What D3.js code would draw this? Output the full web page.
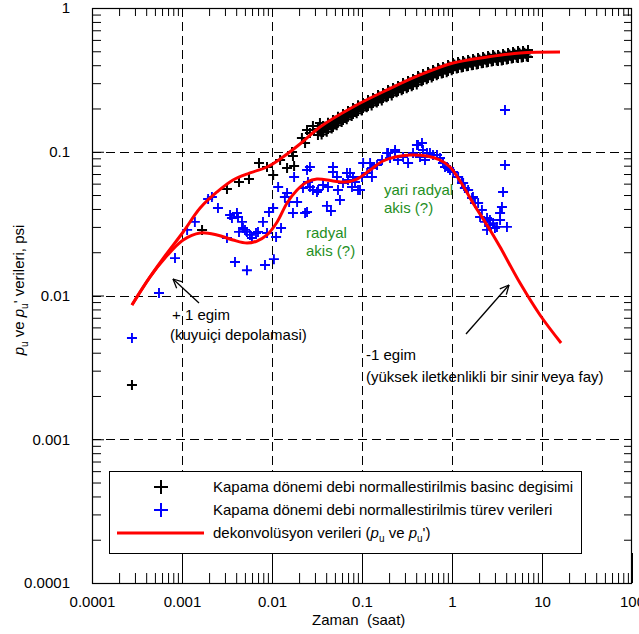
<!DOCTYPE html>
<html>
<head>
<meta charset="utf-8">
<script src="https://cdn.jsdelivr.net/npm/d3@7"></script>
<style>
  body { margin: 0; background: #fff; }
  svg text { font-family: 'Liberation Sans', Arial, sans-serif; font-size: 15px; }
</style>
</head>
<body>
<svg id="chart" width="639" height="634"></svg>
<script>
// tick values and labels
const xMajor = [1e-4, 1e-3, 1e-2, 1e-1, 1, 10, 100];
const xTickLabels = ['0.0001', '0.001', '0.01', '0.1', '1', '10', '100'];
const yMajor = [1e-4, 1e-3, 1e-2, 1e-1, 1];
const yTickLabels = ['0.0001', '0.001', '0.01', '0.1', '1'];

// black + : rate-normalised pressure change (time h, psi)
const pressurePts = [
  [2.78e-4, 0.00238], [1.67e-3, 0.0286], [3.16e-3, 0.0551], [4.30e-3, 0.0616], [5.55e-3, 0.0646],
  [7.17e-3, 0.0835], [8.80e-3, 0.0783], [0.0103, 0.0689], [0.0123, 0.0876], [0.0147, 0.0771],
  [0.0167, 0.0996], [0.0171, 0.0934], [0.0176, 0.0796], [0.0215, 0.1247], [0.0233, 0.115],
  [0.0245, 0.1417], [0.0264, 0.135], [0.0285, 0.1511], [0.0341, 0.1585], [0.0476, 0.1487], [0.0527, 0.1585],
  [0.0324, 0.144], [0.0324, 0.131], [0.0369, 0.151], [0.0369, 0.137], [0.0419, 0.159], [0.0419, 0.144],
  [0.0476, 0.166], [0.0476, 0.151], [0.0541, 0.175], [0.0541, 0.159], [0.0615, 0.183], [0.0615, 0.166],
  [0.0699, 0.192], [0.0699, 0.175], [0.0794, 0.2015], [0.0794, 0.183], [0.0903, 0.211], [0.0903, 0.192],
  [0.1026, 0.218], [0.1026, 0.2015], [0.1166, 0.229], [0.1166, 0.208], [0.1325, 0.237], [0.1325, 0.218],
  [0.1506, 0.248], [0.1506, 0.225], [0.1711, 0.256], [0.1711, 0.237], [0.1945, 0.269], [0.1945, 0.244],
  [0.221, 0.278], [0.221, 0.256], [0.2512, 0.287], [0.2512, 0.265], [0.2855, 0.301], [0.2855, 0.273],
  [0.3245, 0.311], [0.3245, 0.282], [0.3687, 0.321], [0.3687, 0.291], [0.419, 0.3365], [0.419, 0.306],
  [0.476, 0.347], [0.476, 0.3155], [0.541, 0.359], [0.541, 0.326], [0.615, 0.37], [0.615, 0.3365],
  [0.699, 0.3825], [0.699, 0.347], [0.794, 0.389], [0.794, 0.353], [0.903, 0.401], [0.903, 0.365],
  [1.026, 0.414], [1.026, 0.376], [1.166, 0.421], [1.166, 0.3825], [1.325, 0.428], [1.325, 0.389],
  [1.506, 0.435], [1.506, 0.395], [1.711, 0.442], [1.711, 0.401], [1.945, 0.449], [1.945, 0.408],
  [2.21, 0.456], [2.21, 0.414], [2.512, 0.4635], [2.512, 0.421], [2.855, 0.471], [2.855, 0.428],
  [3.245, 0.471], [3.245, 0.428], [3.687, 0.479], [3.687, 0.435], [4.19, 0.486], [4.19, 0.442],
  [4.762, 0.494], [4.762, 0.449], [5.41, 0.502], [5.41, 0.449], [6.15, 0.502], [6.15, 0.456],
  [6.99, 0.51], [6.99, 0.456],
  [0.0345, 0.138], [0.0393, 0.145], [0.0447, 0.152], [0.0508, 0.16], [0.0577, 0.168], [0.0656, 0.176],
  [0.0745, 0.185], [0.0847, 0.194], [0.0963, 0.203], [0.109, 0.211], [0.124, 0.22], [0.141, 0.229],
  [0.16, 0.238], [0.182, 0.248], [0.207, 0.258], [0.236, 0.268], [0.268, 0.278], [0.304, 0.289],
  [0.346, 0.298], [0.393, 0.309], [0.447, 0.323], [0.508, 0.333], [0.577, 0.344], [0.656, 0.355],
  [0.745, 0.366], [0.847, 0.373], [0.963, 0.385], [1.09, 0.396], [1.24, 0.403], [1.41, 0.41],
  [1.6, 0.416], [1.82, 0.423], [2.07, 0.43], [2.36, 0.437], [2.68, 0.444], [3.04, 0.451],
  [3.46, 0.453], [3.93, 0.46], [4.47, 0.466], [5.08, 0.473], [5.77, 0.477], [6.56, 0.481],
  [0.0335, 0.14], [0.0381, 0.147], [0.0433, 0.155], [0.0492, 0.162], [0.0559, 0.171], [0.0635, 0.178],
  [0.0722, 0.187], [0.082, 0.196], [0.0933, 0.206], [0.106, 0.213], [0.12, 0.223], [0.137, 0.231],
  [0.156, 0.242], [0.177, 0.25], [0.201, 0.262], [0.228, 0.271], [0.259, 0.28], [0.295, 0.293],
  [0.335, 0.303], [0.381, 0.313], [0.433, 0.328], [0.492, 0.338], [0.559, 0.35], [0.635, 0.361],
  [0.722, 0.373], [0.82, 0.379], [0.933, 0.391], [1.06, 0.404], [1.2, 0.41], [1.37, 0.417],
  [1.56, 0.424], [1.77, 0.431], [2.01, 0.438], [2.28, 0.445], [2.59, 0.452], [2.95, 0.459],
  [3.35, 0.459], [3.81, 0.467], [4.33, 0.474], [4.92, 0.482], [5.59, 0.489], [6.35, 0.489],
  [0.0356, 0.132], [0.0406, 0.138], [0.0461, 0.145], [0.0524, 0.153], [0.0595, 0.161], [0.0677, 0.168],
  [0.0769, 0.177], [0.0873, 0.185], [0.0993, 0.194], [0.113, 0.204], [0.128, 0.21], [0.146, 0.22],
  [0.166, 0.227], [0.188, 0.239], [0.214, 0.246], [0.243, 0.259], [0.276, 0.268], [0.314, 0.276],
  [0.357, 0.285], [0.406, 0.294], [0.461, 0.309], [0.524, 0.319], [0.595, 0.329], [0.677, 0.34],
  [0.769, 0.35], [0.873, 0.357], [0.993, 0.369], [1.13, 0.38], [1.28, 0.386], [1.46, 0.393],
  [1.66, 0.399], [1.88, 0.405], [2.14, 0.412], [2.43, 0.418], [2.76, 0.425], [3.14, 0.432],
  [3.57, 0.432], [4.06, 0.439], [4.61, 0.446], [5.24, 0.453], [5.95, 0.453], [6.77, 0.46]
];

// blue + : rate-normalised derivative
const derivPts = [
  [2.78e-4, 0.00506], [5.55e-4, 0.0104], [8.36e-4, 0.0182], [1.14e-3, 0.0286], [1.39e-3, 0.0325],
  [1.95e-3, 0.0469], [2.15e-3, 0.0484], [2.51e-3, 0.0406], [3.16e-3, 0.0251], [3.42e-3, 0.0363],
  [3.59e-3, 0.0346], [4.08e-3, 0.0375], [4.19e-3, 0.0352], [4.64e-3, 0.0325], [4.76e-3, 0.0295],
  [4.30e-3, 0.0277], [5.01e-3, 0.0286], [5.27e-3, 0.0277], [5.69e-3, 0.0264], [5.99e-3, 0.0251],
  [6.64e-3, 0.0272], [6.99e-3, 0.0277], [7.94e-3, 0.0325], [8.80e-3, 0.0272], [9.26e-3, 0.0381],
  [0.0103, 0.0406], [0.0111, 0.0255], [0.0126, 0.0295], [0.0117, 0.0569], [0.0139, 0.0484],
  [0.0147, 0.0516], [0.0155, 0.0447], [0.0171, 0.0375], [0.019, 0.0447], [0.0176, 0.0667],
  [0.0221, 0.056], [0.0233, 0.0375], [0.0245, 0.0746], [0.0264, 0.0783], [0.0285, 0.0542],
  [0.0316, 0.0525], [3.88e-3, 0.0171], [5.27e-3, 0.015], [8.36e-3, 0.0163], [0.0105, 0.0179],
  [0.0251, 0.0616], [0.0245, 0.0381], [0.0264, 0.0569], [0.0325, 0.0542], [0.0369, 0.0587],
  [0.0419, 0.0569], [0.0476, 0.0723], [0.0527, 0.0667], [0.0541, 0.0542], [0.0615, 0.0606],
  [0.0699, 0.0636], [0.0774, 0.0569], [0.0836, 0.0616], [0.0903, 0.0542], [0.1, 0.0667],
  [0.103, 0.0835], [0.114, 0.0712], [0.129, 0.0771], [0.147, 0.0809], [0.167, 0.0876],
  [0.19, 0.098], [0.205, 0.0905], [0.233, 0.0996], [0.251, 0.0876], [0.286, 0.0919],
  [0.325, 0.0835], [0.369, 0.098], [0.408, 0.1114], [0.441, 0.0919], [0.501, 0.0876],
  [0.0408, 0.042], [0.0452, 0.0387], [0.0569, 0.0462], [0.095, 0.0542], [0.0476, 0.0783],
  [0.0736, 0.0712], [0.123, 0.0835], [0.129, 0.0667], [0.0681, 0.0712], [0.0794, 0.0667],
  [0.195, 0.098], [0.233, 0.1028], [0.419, 0.1114], [0.476, 0.1028], [0.569, 0.098],
  [0.681, 0.0949], [0.794, 0.0835], [0.903, 0.0771], [1.03, 0.0723], [1.17, 0.0667],
  [1.33, 0.0606], [1.51, 0.0542], [1.71, 0.0484], [1.95, 0.044], [2.15, 0.0393],
  [2.45, 0.0346], [2.64, 0.0309], [2.86, 0.0319], [3.16, 0.03], [3.42, 0.0335],
  [3.59, 0.0413], [3.69, 0.0525], [3.88, 0.0809], [3.88, 0.1952], [4.08, 0.03],
  [0.464, 0.115], [0.527, 0.098], [0.615, 0.0949], [0.736, 0.0905], [0.836, 0.0783],
  [0.95, 0.0746], [1.29, 0.0606], [1.39, 0.056], [1.67, 0.0477], [1.8, 0.044],
  [2.05, 0.0352], [2.33, 0.0325], [2.45, 0.0286], [2.64, 0.0335], [3.42, 0.0375], [3.0, 0.0295]
];

// red: deconvolution pressure
const deconvP = [
  [2.78e-4, 0.00859], [4.41e-4, 0.01345], [6.47e-4, 0.01883], [1.03e-3, 0.02765], [1.59e-3, 0.0406],
  [2.45e-3, 0.0525], [3.69e-3, 0.0636], [5.70e-3, 0.0712], [8.80e-3, 0.0783], [0.01324, 0.0919],
  [0.02046, 0.1132], [0.03412, 0.1486], [0.0794, 0.2049], [0.1897, 0.269], [0.4406, 0.342],
  [1.026, 0.4142], [2.45, 0.456], [5.70, 0.4863], [15.85, 0.4943]
];

// red: deconvolution derivative
const deconvD = [
  [2.78e-4, 0.00859], [4.41e-4, 0.01345], [6.47e-4, 0.01823], [1.03e-3, 0.02432], [1.59e-3, 0.02721],
  [2.45e-3, 0.02636], [3.69e-3, 0.02432], [5.27e-3, 0.02318], [6.81e-3, 0.02393], [8.80e-3, 0.02636],
  [0.0114, 0.03246], [0.0147, 0.04399], [0.019, 0.0542], [0.0245, 0.0616], [0.0316, 0.0646],
  [0.0477, 0.0626], [0.0647, 0.0616], [0.088, 0.0646], [0.123, 0.0746], [0.171, 0.0862],
  [0.233, 0.0919], [0.341, 0.0949], [0.527, 0.0934], [0.736, 0.0876], [0.95, 0.0783],
  [1.23, 0.0626], [1.71, 0.044], [2.45, 0.0309], [3.41, 0.0218], [5.70, 0.0122],
  [9.50, 0.00732], [16.3, 0.00467]
];

const legendLabels = [
  'Kapama dönemi debi normallestirilmis basinc degisimi',
  'Kapama dönemi debi normallestirilmis türev verileri'
];

const svg = d3.select('#chart');
const padL = 92, padR = 632, padT = 8, padB = 583;

const x = d3.scaleLog().domain([1e-4, 100]).range([padL, padR]);
const y = d3.scaleLog().domain([1e-4, 1]).range([padB, padT]);

const minors = (decades) => {
  const out = [];
  decades.slice(0, -1).forEach((d) => {
    for (let k = 2; k <= 9; k++) out.push(d * k);
  });
  return out;
};
const xMinor = minors(xMajor);
const yMinor = minors(yMajor);

// dashed grid
const grid = svg.append('g').attr('stroke', '#000').attr('stroke-width', 1).attr('stroke-dasharray', '9,5');
xMajor.slice(1, -1).forEach((v) => {
  const px = Math.round(x(v)) + 0.5;
  grid.append('line').attr('x1', px).attr('x2', px).attr('y1', padT).attr('y2', padB);
});
yMajor.slice(1, -1).forEach((v) => {
  const py = Math.round(y(v)) + 0.5;
  grid.append('line').attr('x1', padL).attr('x2', padR).attr('y1', py).attr('y2', py);
});

const noDomain = (g) => g.select('.domain').remove();
const fontAttrs = (g) => g.attr('font-family', "'Liberation Sans', Arial, sans-serif").attr('font-size', 15);

// minor ticks on all four sides, pointing inward
svg.append('g').attr('transform', `translate(0,${padB})`)
  .call(d3.axisBottom(x).tickValues(xMinor).tickSize(-10).tickSizeOuter(0).tickFormat(''))
  .call(noDomain);
svg.append('g').attr('transform', `translate(0,${padT})`)
  .call(d3.axisTop(x).tickValues(xMinor).tickSize(-8).tickSizeOuter(0).tickFormat(''))
  .call(noDomain);
svg.append('g').attr('transform', `translate(${padL},0)`)
  .call(d3.axisLeft(y).tickValues(yMinor).tickSize(-9).tickSizeOuter(0).tickFormat(''))
  .call(noDomain);
svg.append('g').attr('transform', `translate(${padR},0)`)
  .call(d3.axisRight(y).tickValues(yMinor).tickSize(-8).tickSizeOuter(0).tickFormat(''))
  .call(noDomain);

// major ticks + labels
svg.append('g').attr('transform', `translate(0,${padB})`)
  .call(d3.axisBottom(x).tickValues(xMajor).tickSize(-30).tickSizeOuter(0).tickPadding(13)
    .tickFormat((d, i) => xTickLabels[i]))
  .call(noDomain).call(fontAttrs);
svg.append('g').attr('transform', `translate(${padL},0)`)
  .call(d3.axisLeft(y).tickValues(yMajor).tickSize(-12).tickSizeOuter(0).tickPadding(22)
    .tickFormat((d, i) => yTickLabels[i]))
  .call(noDomain).call(fontAttrs);
svg.selectAll('.tick text').attr('fill', '#000');

// frame
svg.append('rect').attr('x', padL + 0.5).attr('y', padT + 0.5)
  .attr('width', padR - padL - 1).attr('height', padB - padT)
  .attr('fill', 'none').attr('stroke', '#000').attr('stroke-width', 1.2);

// markers
const plus = (s) => `M${-s},0H${s}M0,${-s}V${s}`;
svg.append('g').selectAll('path').data(pressurePts).enter().append('path')
  .attr('d', plus(5)).attr('transform', (d) => `translate(${x(d[0])},${y(d[1])})`)
  .attr('stroke', '#000').attr('stroke-width', 2).attr('fill', 'none');
svg.append('g').selectAll('path').data(derivPts).enter().append('path')
  .attr('d', plus(5)).attr('transform', (d) => `translate(${x(d[0])},${y(d[1])})`)
  .attr('stroke', '#0000ff').attr('stroke-width', 1.9).attr('fill', 'none');

// deconvolution curves
const line = d3.line().x((d) => x(d[0])).y((d) => y(d[1])).curve(d3.curveCatmullRom);
[deconvP, deconvD].forEach((arr) => {
  svg.append('path').datum(arr).attr('d', line)
    .attr('fill', 'none').attr('stroke', '#ff0000').attr('stroke-width', 3);
});

// annotations
const ann = svg.append('g').attr('fill', '#000');
ann.append('text').attr('x', 172).attr('y', 320).text('+ 1 egim');
ann.append('text').attr('x', 170).attr('y', 340).text('(kuyuiçi depolamasi)');
ann.append('text').attr('x', 366).attr('y', 360).text('-1 egim');
ann.append('text').attr('x', 366).attr('y', 382).text('(yüksek iletkenlikli bir sinir veya fay)');
const green = svg.append('g').attr('fill', '#1f8f1f');
green.append('text').attr('x', 306).attr('y', 238).text('radyal');
green.append('text').attr('x', 306).attr('y', 256).text('akis (?)');
green.append('text').attr('x', 384).attr('y', 195).text('yari radyal');
green.append('text').attr('x', 384).attr('y', 213).text('akis (?)');

const arrow = (x1, y1, x2, y2) => {
  const g = svg.append('g').attr('stroke', '#000').attr('stroke-width', 1.3).attr('fill', 'none');
  g.append('line').attr('x1', x1).attr('y1', y1).attr('x2', x2).attr('y2', y2);
  const a = Math.atan2(y2 - y1, x2 - x1);
  const len = 10, spread = 0.45;
  [a + Math.PI - spread, a + Math.PI + spread].forEach((b) => {
    g.append('line').attr('x1', x2).attr('y1', y2)
      .attr('x2', x2 + len * Math.cos(b)).attr('y2', y2 + len * Math.sin(b));
  });
};
arrow(199, 303, 173, 279);
arrow(466, 334, 509, 285);

// legend
const lg = svg.append('g');
lg.append('rect').attr('x', 109.5).attr('y', 471.5).attr('width', 472).attr('height', 82)
  .attr('fill', '#fff').attr('stroke', '#000').attr('stroke-width', 1);
lg.append('path').attr('d', plus(7)).attr('transform', 'translate(161,487)')
  .attr('stroke', '#000').attr('stroke-width', 2);
lg.append('path').attr('d', plus(7)).attr('transform', 'translate(161,510)')
  .attr('stroke', '#0000ff').attr('stroke-width', 2);
lg.append('line').attr('x1', 117).attr('x2', 204).attr('y1', 533).attr('y2', 533)
  .attr('stroke', '#ff0000').attr('stroke-width', 3);
lg.append('text').attr('x', 213).attr('y', 492).text(legendLabels[0]);
lg.append('text').attr('x', 213).attr('y', 515).text(legendLabels[1]);
const t3 = lg.append('text').attr('x', 213).attr('y', 538);
t3.append('tspan').text('dekonvolüsyon verileri (');
t3.append('tspan').attr('font-style', 'italic').text('p');
t3.append('tspan').attr('font-size', 10).attr('dy', 4).text('u');
t3.append('tspan').attr('dy', -4).text(' ve ');
t3.append('tspan').attr('font-style', 'italic').text('p');
t3.append('tspan').attr('font-size', 10).attr('dy', 4).text('u');
t3.append('tspan').attr('dy', -4).text("')");

// axis titles
svg.append('text').attr('x', 312).attr('y', 625).text('Zaman\u00a0 (saat)');
const yl = svg.append('text').attr('transform', 'translate(24,290) rotate(-90)').attr('text-anchor', 'middle');
yl.append('tspan').attr('font-style', 'italic').text('p');
yl.append('tspan').attr('font-size', 10).attr('dy', 4).text('u');
yl.append('tspan').attr('dy', -4).text(' ve ');
yl.append('tspan').attr('font-style', 'italic').text('p');
yl.append('tspan').attr('font-size', 10).attr('dy', 4).text('u');
yl.append('tspan').attr('dy', -4).text("' verileri, psi");
</script>
</body>
</html>
